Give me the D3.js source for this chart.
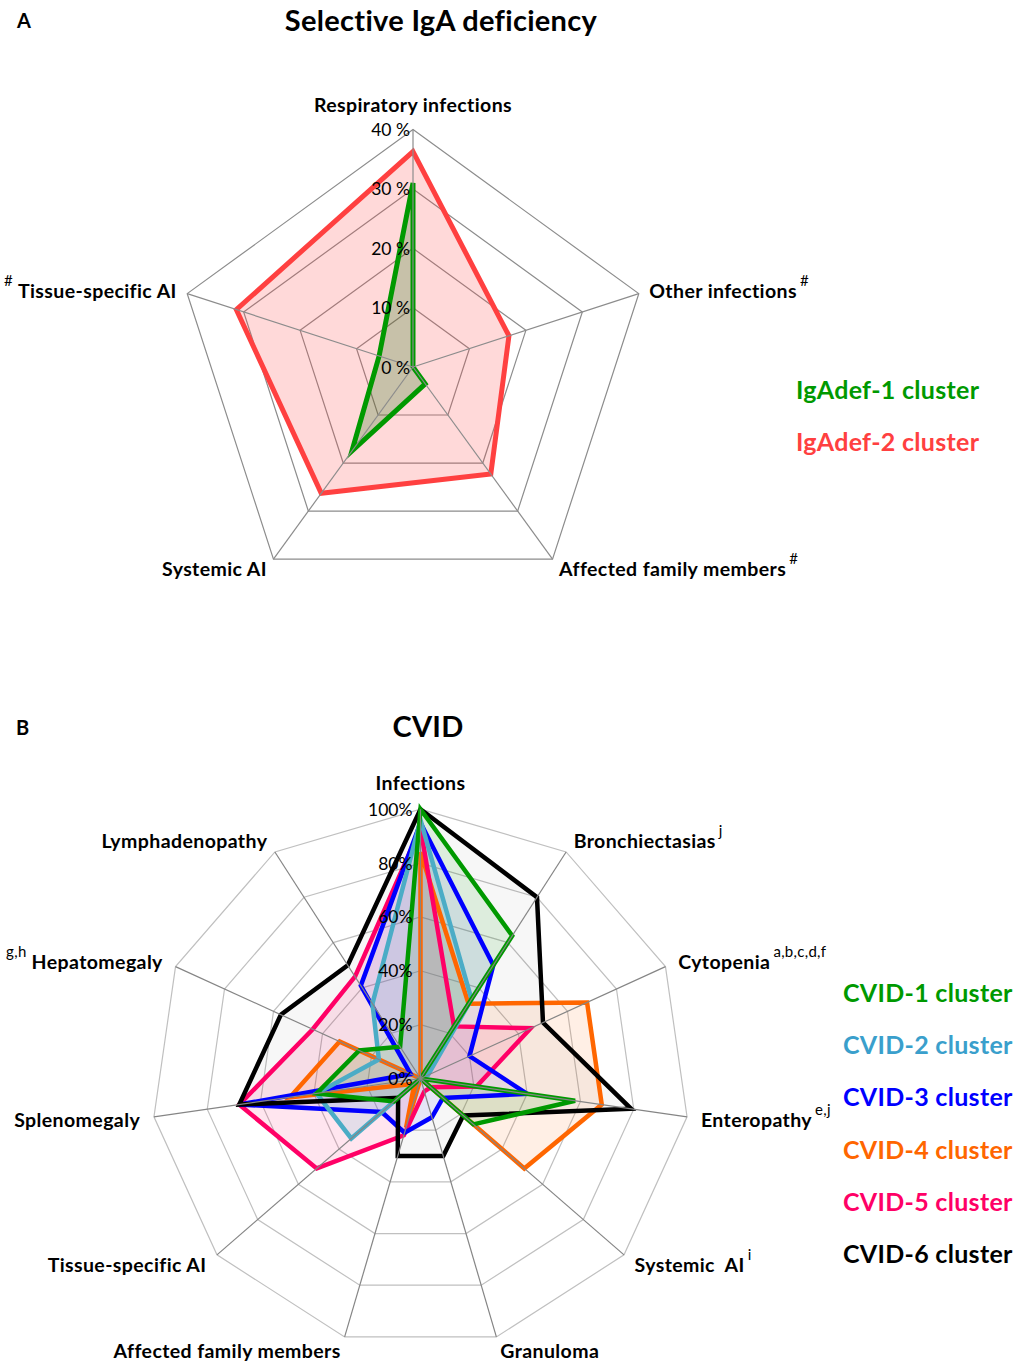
<!DOCTYPE html>
<html>
<head>
<meta charset="utf-8">
<script src="https://cdnjs.cloudflare.com/ajax/libs/d3/7.8.5/d3.min.js"></script>
<style>
body { margin: 0; background: #fff; }
svg { font-family: Lato, "Open Sans", sans-serif; }
.axlbl { font-weight: bold; font-size: 19.5px; letter-spacing: 0.4px; white-space: pre; }
.sup { font-weight: normal; font-size: 15px; letter-spacing: 0.3px; }
.tick { font-size: 17.5px; }
.legend { font-weight: bold; font-size: 25px; letter-spacing: 0.3px; }
.title { font-weight: bold; font-size: 29px; letter-spacing: 0.3px; }
.panel { font-weight: bold; font-size: 20px; }
</style>
</head>
<body>
<script>

// A: selective IgA deficiency
var igaAxes = ["Respiratory infections", "Other infections", "Affected family members", "Systemic AI", "Tissue-specific AI"];
var igaSupAfter = ["", "#", "#", "", ""];
var igaSupBefore = ["", "", "", "", "#"];
var igaTicks = [0, 10, 20, 30, 40];
var igaTickLabels = ["0 %", "10 %", "20 %", "30 %", "40 %"];
var igaDef1 = [31, 0, 3.5, 17.5, 6];
var igaDef2 = [36.3, 17, 22.3, 26.3, 31.3];

// B: CVID
var cvidAxes = ["Infections", "Bronchiectasias", "Cytopenia", "Enteropathy", "Systemic  AI", "Granuloma",
                "Affected family members", "Tissue-specific AI", "Splenomegaly", "Hepatomegaly", "Lymphadenopathy"];
var cvidSupAfter = ["", "j", "a,b,c,d,f", "e,j", "i", "", "", "", "", "", ""];
var cvidSupBefore = ["", "", "", "", "", "", "", "", "", "g,h", ""];
var cvidTicks = [0, 20, 40, 60, 80, 100];
var cvidTickLabels = ["0%", "20%", "40%", "60%", "80%", "100%"];
var cvid1 = [100, 63, 0, 58, 26, 0, 0, 13, 39, 25, 14];
var cvid2 = [96, 35, 3, 0, 0, 0, 0, 34, 39, 17, 33];
var cvid3 = [95, 50, 20, 40, 11, 15, 21, 19, 68, 4, 41];
var cvid4 = [84, 33, 68, 68, 51, 0, 19, 3, 49, 33, 0];
var cvid5 = [93, 23, 45, 21, 5, 5, 22, 51, 68, 44, 45];
var cvid6 = [100, 80, 50, 79, 21, 30, 30, 11, 68, 57, 50];

var svg = d3.select("body").append("svg")
  .attr("width", 1017)
  .attr("height", 1362);

function radar(opt) {
  var n = opt.axes.length;
  var g = svg.append("g").attr("transform", "translate(" + opt.cx + "," + opt.cy + ")");
  var r = d3.scaleLinear().domain([0, opt.max]).range([0, opt.radius]);
  var ang = d3.scaleLinear().domain([0, n]).range([0, 2 * Math.PI]);
  var line = d3.lineRadial().curve(d3.curveLinearClosed);
  var idx = d3.range(n);

  // rings
  opt.ticks.slice(1).forEach(function(t) {
    g.append("path")
      .attr("d", line(idx.map(function(i) { return [ang(i), r(t)]; })))
      .attr("fill", "none")
      .attr("stroke", opt.ringColor)
      .attr("stroke-width", 1.2);
  });

  // fills first, then strokes
  opt.series.forEach(function(s) {
    g.append("path")
      .attr("d", line(s.values.map(function(v, i) { return [ang(i), r(v)]; })))
      .attr("fill", s.fill)
      .attr("stroke", "none");
  });
  opt.series.forEach(function(s) {
    g.append("path")
      .attr("d", line(s.values.map(function(v, i) { return [ang(i), r(v)]; })))
      .attr("fill", "none")
      .attr("stroke", s.color)
      .attr("stroke-width", opt.lineWidth)
      .attr("stroke-linejoin", "miter");
  });

  // spokes on top
  idx.forEach(function(i) {
    var a = ang(i);
    g.append("line")
      .attr("x1", 0).attr("y1", 0)
      .attr("x2", Math.sin(a) * r(opt.max))
      .attr("y2", -Math.cos(a) * r(opt.max))
      .attr("stroke", opt.spokeColor)
      .attr("stroke-width", 1.2);
  });

  // tick labels
  opt.ticks.forEach(function(t, k) {
    g.append("text")
      .attr("class", "tick")
      .attr("x", opt.tickDx)
      .attr("y", -r(t))
      .attr("text-anchor", "end")
      .attr("dominant-baseline", "central")
      .text(opt.tickLabels[k]);
  });

  // axis labels
  idx.forEach(function(i) {
    var a = ang(i), sx = Math.sin(a), cy = -Math.cos(a);
    var rr = r(opt.max) + opt.labelPad;
    var x = sx * rr, y = cy * rr, anchor = "start";
    if (Math.abs(sx) < 0.01) { anchor = "middle"; y = -r(opt.max) - opt.topPad; }
    else if (sx < 0) anchor = "end";
    var t = g.append("text")
      .attr("class", "axlbl")
      .attr("x", x).attr("y", y)
      .attr("text-anchor", anchor)
      .attr("dominant-baseline", "central");
    if (opt.supBefore[i]) {
      t.append("tspan").attr("class", "sup").attr("dy", -10).text(opt.supBefore[i]);
      t.append("tspan").attr("dy", 10).attr("dx", 5).text(opt.axes[i]);
    } else {
      t.append("tspan").text(opt.axes[i]);
    }
    if (opt.supAfter[i]) {
      t.append("tspan").attr("class", "sup").attr("dx", 3).attr("dy", -10).text(opt.supAfter[i]);
    }
  });
}

// panel A
svg.append("text").attr("class", "panel").attr("x", 17).attr("y", 20)
  .attr("dominant-baseline", "central").text("A");
svg.append("text").attr("class", "title").attr("x", 441).attr("y", 19)
  .attr("text-anchor", "middle").attr("dominant-baseline", "central").text("Selective IgA deficiency");

radar({
  cx: 413, cy: 367, radius: 237.4, max: 40,
  axes: igaAxes, supAfter: igaSupAfter, supBefore: igaSupBefore,
  ticks: igaTicks, tickLabels: igaTickLabels, tickDx: -3,
  labelPad: 11, topPad: 26,
  ringColor: "#8c8c8c", spokeColor: "#8c8c8c", lineWidth: 5,
  series: [
    {values: igaDef2, color: "#ff4040", fill: "rgba(255,64,64,0.2)"},
    {values: igaDef1, color: "#009900", fill: "rgba(0,110,0,0.22)"}
  ]
});

var legA = [["IgAdef-1 cluster", "#009900"], ["IgAdef-2 cluster", "#ff4040"]];
legA.forEach(function(d, i) {
  svg.append("text").attr("class", "legend")
    .attr("x", 796).attr("y", 389 + i * 52)
    .attr("dominant-baseline", "central")
    .attr("fill", d[1]).text(d[0]);
});

// panel B
svg.append("text").attr("class", "panel").attr("x", 16).attr("y", 727)
  .attr("dominant-baseline", "central").text("B");
svg.append("text").attr("class", "title").attr("x", 428).attr("y", 725)
  .attr("text-anchor", "middle").attr("dominant-baseline", "central").text("CVID");

radar({
  cx: 420.5, cy: 1078.5, radius: 269.3, max: 100,
  axes: cvidAxes, supAfter: cvidSupAfter, supBefore: cvidSupBefore,
  ticks: cvidTicks, tickLabels: cvidTickLabels, tickDx: -8,
  labelPad: 14, topPad: 27,
  ringColor: "#c0c0c0", spokeColor: "#858585", lineWidth: 4.5,
  series: [
    {values: cvid4, color: "#ff6600", fill: "rgba(255,102,0,0.1)"},
    {values: cvid5, color: "#ff0066", fill: "rgba(255,0,102,0.1)"},
    {values: cvid3, color: "#0000ff", fill: "rgba(0,0,255,0.07)"},
    {values: cvid2, color: "#4bacc6", fill: "rgba(75,172,198,0.15)"},
    {values: cvid6, color: "#000000", fill: "rgba(0,0,0,0.03)"},
    {values: cvid1, color: "#009900", fill: "rgba(0,153,0,0.1)"}
  ]
});

var legB = [["CVID-1 cluster", "#009900"], ["CVID-2 cluster", "#3a9fcc"], ["CVID-3 cluster", "#0000ff"],
            ["CVID-4 cluster", "#ff6600"], ["CVID-5 cluster", "#ff0066"], ["CVID-6 cluster", "#000000"]];
legB.forEach(function(d, i) {
  svg.append("text").attr("class", "legend")
    .attr("x", 843).attr("y", 992 + i * 52.2)
    .attr("dominant-baseline", "central")
    .attr("fill", d[1]).text(d[0]);
});

</script>
</body>
</html>
